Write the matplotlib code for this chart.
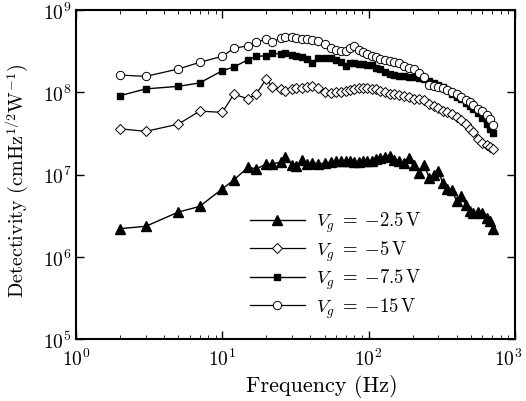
import matplotlib
matplotlib.use('Agg')
import matplotlib.pyplot as plt
import matplotlib.transforms as mtransforms
from matplotlib.ticker import NullLocator

plt.rcParams['font.family'] = 'serif'
plt.rcParams['font.serif'] = ['cmr10', 'DejaVu Serif']
plt.rcParams['mathtext.fontset'] = 'cm'
plt.rcParams['axes.unicode_minus'] = False
plt.rcParams['axes.formatter.use_mathtext'] = True

freq = [2, 3, 5, 7, 10, 12, 15, 17, 20, 22, 25, 27, 30, 32, 35, 38, 41, 45, 50, 55,
        60, 65, 70, 75, 80, 86, 92, 98, 105, 112, 120, 130, 140, 150, 160, 175, 190, 205, 220, 240,
        260, 280, 300, 320, 345, 370, 400, 430, 460, 490, 520, 560, 600, 640, 680, 710]

# Vg = -2.5 V
d_25 = [2.2e6, 2.35e6, 3.5e6, 4.1e6, 6.7e6, 8.6e6, 1.23e7, 1.17e7, 1.34e7, 1.34e7,
        1.42e7, 1.63e7, 1.31e7, 1.28e7, 1.5e7, 1.33e7, 1.4e7, 1.35e7, 1.37e7, 1.42e7,
        1.45e7, 1.47e7, 1.46e7, 1.45e7, 1.44e7, 1.42e7, 1.45e7, 1.47e7, 1.45e7, 1.55e7,
        1.6e7, 1.65e7, 1.68e7, 1.5e7, 1.45e7, 1.4e7, 1.6e7, 1.3e7, 1.05e7, 1.3e7,
        9.0e6, 1.0e7, 1.1e7, 8.0e6, 6.6e6, 6.4e6, 4.8e6, 5.5e6, 4.3e6, 3.6e6,
        3.4e6, 3.5e6, 3.4e6, 3.0e6, 2.7e6, 2.15e6]

# Vg = -5 V
d_5 = [3.6e7, 3.35e7, 4.1e7, 5.9e7, 5.7e7, 9.5e7, 8.3e7, 9.5e7, 1.45e8, 1.15e8,
       1.1e8, 1.05e8, 1.1e8, 1.12e8, 1.14e8, 1.15e8, 1.18e8, 1.12e8, 1.0e8, 9.7e7,
       1.0e8, 1.02e8, 1.05e8, 1.08e8, 1.1e8, 1.12e8, 1.12e8, 1.12e8, 1.1e8, 1.1e8,
       1.05e8, 1.0e8, 9.6e7, 9.4e7, 9.3e7, 9.1e7, 8.7e7, 8.3e7, 8.2e7, 8.0e7,
       7.3e7, 6.9e7, 6.4e7, 6.0e7, 5.8e7, 5.5e7, 5.0e7, 4.6e7, 4.1e7, 3.6e7,
       3.3e7, 2.7e7, 2.4e7, 2.3e7, 2.15e7, 2.05e7]

# Vg = -7.5 V
d_75 = [9.1e7, 1.1e8, 1.18e8, 1.3e8, 1.83e8, 2.03e8, 2.49e8, 2.74e8, 2.77e8, 3.0e8,
        2.9e8, 3.0e8, 2.85e8, 2.78e8, 2.7e8, 2.55e8, 2.3e8, 2.6e8, 2.6e8, 2.6e8,
        2.45e8, 2.35e8, 2.1e8, 2.3e8, 2.25e8, 2.2e8, 2.18e8, 2.15e8, 2.15e8, 2.0e8,
        1.92e8, 1.78e8, 1.68e8, 1.6e8, 1.56e8, 1.56e8, 1.55e8, 1.52e8, 1.5e8, 1.44e8,
        1.36e8, 1.28e8, 1.23e8, 1.17e8, 1.08e8, 9.5e7, 8.8e7, 8.2e7, 7.5e7, 6.8e7,
        6.2e7, 5.6e7, 4.9e7, 4.1e7, 3.6e7, 3.2e7]

# Vg = -15 V
d_15 = [1.62e8, 1.56e8, 1.92e8, 2.31e8, 2.74e8, 3.42e8, 3.68e8, 4.05e8, 4.44e8, 4.1e8,
        4.53e8, 4.64e8, 4.64e8, 4.55e8, 4.5e8, 4.4e8, 4.3e8, 4.15e8, 3.9e8, 3.5e8,
        3.3e8, 3.2e8, 3.2e8, 3.5e8, 3.65e8, 3.3e8, 3.1e8, 2.92e8, 2.74e8, 2.65e8,
        2.54e8, 2.48e8, 2.42e8, 2.35e8, 2.28e8, 2.1e8, 2.0e8, 1.9e8, 1.7e8, 1.55e8,
        1.22e8, 1.18e8, 1.15e8, 1.12e8, 1.07e8, 1.02e8, 9.4e7, 8.8e7, 8.1e7, 7.6e7,
        7.1e7, 6.3e7, 5.9e7, 5.3e7, 4.7e7, 4.0e7]

fig = plt.figure(figsize=(5.26, 4.02), dpi=100)
ax = fig.add_axes([0.1445, 0.154, 0.8345, 0.8186])

ax.plot(freq, d_25, '-', color='black', lw=1, marker='^', ms=6.5, mfc='black', mec='black',
        label=r'$V_g\;=\;{-}2.5\,\mathrm{V}$')
ax.plot(freq, d_5, '-', color='black', lw=0.9, marker='D', ms=4.8, mfc='white', mec='black', mew=0.7,
        label=r'$V_g\;=\;{-}5\,\mathrm{V}$')
ax.plot(freq, d_75, '-', color='black', lw=1, marker='s', ms=4.8, mfc='black', mec='black',
        label=r'$V_g\;=\;{-}7.5\,\mathrm{V}$')
ax.plot(freq, d_15, '-', color='black', lw=0.9, marker='o', ms=6, mfc='white', mec='black', mew=0.7,
        label=r'$V_g\;=\;{-}15\,\mathrm{V}$')

ax.set_xscale('log')
ax.set_yscale('log')
ax.set_xlim(1, 1000)
ax.set_ylim(1e5, 1e9)
ax.set_xticks([1, 10, 100, 1000])
ax.yaxis.set_minor_locator(NullLocator())

ax.tick_params(which='both', direction='in', top=True, right=True, labelsize=14)
ax.tick_params(axis='x', pad=6)
ax.tick_params(axis='y', pad=3)
ax.tick_params(which='major', length=6, width=1)
ax.tick_params(which='minor', length=3, width=0.6)
for s in ax.spines.values():
    s.set_linewidth(1.5)

ax.set_xlabel('Frequency (Hz)', fontsize=16)
ax.set_ylabel(r'Detectivity (cmHz$^{1/2}$W$^{-1}$)', fontsize=14.5)
ax.xaxis.set_label_coords(0.56, -0.105)
ax.yaxis.set_label_coords(-0.103, 0.483)

ax.legend(loc='upper left', bbox_to_anchor=(0.38, 0.415), frameon=False, fontsize=13.5,
          handlelength=2.9, handletextpad=0.6, labelspacing=0.22, borderaxespad=0)

# nudge the 10^3 label a little so it stays inside the figure
fig.canvas.draw()
shift = mtransforms.ScaledTranslation(-5 / 72, 0, fig.dpi_scale_trans)
last = ax.xaxis.get_major_ticks()[3].label1
last.set_transform(last.get_transform() + shift)

fig.savefig('out.png', dpi=100)
